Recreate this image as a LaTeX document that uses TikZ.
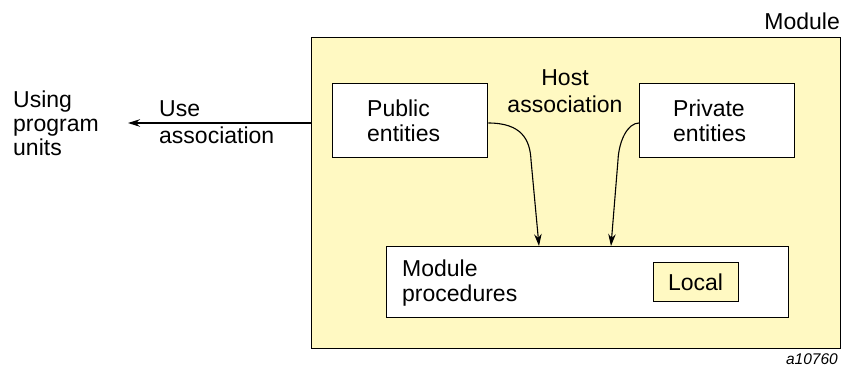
\documentclass[tikz,border=0pt]{standalone}
\usepackage{fontspec}
\setmainfont{Liberation Sans}
\usetikzlibrary{arrows.meta}
\definecolor{modfill}{HTML}{FFF9C2}
\begin{document}
\begin{tikzpicture}[x=1pt,y=-1pt,
  box/.style={draw=black,line width=1.3pt,inner sep=0pt},
  lbl/.style={font=\fontsize{23}{25}\selectfont,align=left,inner sep=0pt},
  conn/.style={draw=black,line width=1.1pt,-{Stealth[length=12pt,width=7.5pt]}}]
\useasboundingbox (0,0) rectangle (846,368);
\node[box,fill=modfill,minimum width=529pt,minimum height=311pt,anchor=north west] (mod) at (311,37) {};
\node[box,fill=white,minimum width=155pt,minimum height=74pt,anchor=north west] (pub) at (332,83) {};
\node[box,fill=white,minimum width=155pt,minimum height=74pt,anchor=north west] (priv) at (639,83) {};
\node[box,fill=white,minimum width=402pt,minimum height=71pt,anchor=north west] (proc) at (386,246) {};
\node[box,fill=modfill,minimum width=85pt,minimum height=39pt,anchor=north west] (loc) at (653,262) {};
\node[lbl,anchor=west] (pubt) at (367,121) {Public\\entities};
\node[lbl,anchor=west] (privt) at (673,121) {Private\\entities};
\node[lbl,align=center,font=\fontsize{23}{27}\selectfont] (host) at (565,91) {Host\\association};
\node[lbl,anchor=west] (proct) at (402,283) {Module\\procedures};
\node[lbl] (loct) at (695.5,282) {Local};
\node[lbl,anchor=east] (modt) at (840,21) {Module};
\node[lbl,anchor=west,font=\fontsize{23}{24}\selectfont] (using) at (13,123) {Using\\program\\units};
\node[lbl,anchor=west,font=\fontsize{23}{27}\selectfont] (uset) at (159,122) {Use\\association};
\node[font=\fontsize{15.5}{17}\selectfont\itshape,anchor=east,inner sep=0pt] (fig) at (838,359) {a10760};
\coordinate (usend) at (128,123);
\coordinate (pubend) at (539,246);
\coordinate (privend) at (611,246);
\draw[conn] (mod.west |- 0,123) -- (usend);
\draw[conn] (pub.east |- 0,123) .. controls (522,123) and (530,140) .. (531,160) -- (pubend);
\draw[conn] (priv.west |- 0,123) .. controls (628,123) and (619,140) .. (618,160) -- (privend);
\end{tikzpicture}
\end{document}
